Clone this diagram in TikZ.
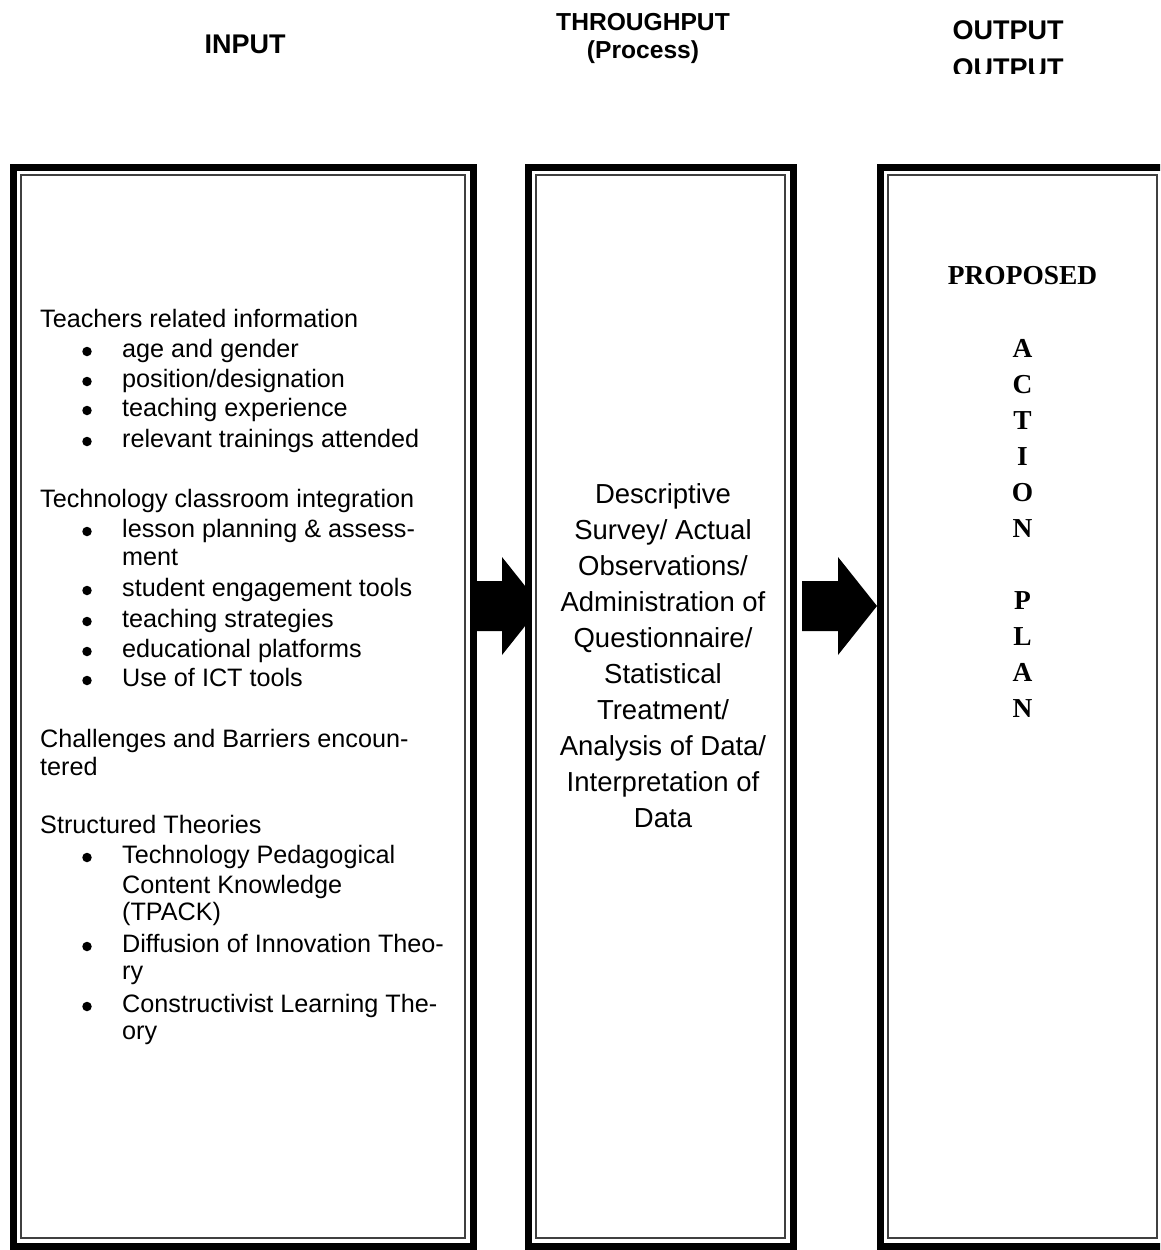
\documentclass[tikz,border=0pt]{standalone}
\usepackage{fontspec}
\setmainfont{Liberation Sans}
\newfontfamily\timesfont{Liberation Serif}
\usetikzlibrary{positioning,backgrounds,calc}

\begin{document}
\begin{tikzpicture}[x=1pt, y=-1pt,
        frame/.style={draw, line width=7pt, fill=white, inner sep=0pt, outer sep=0pt, minimum height=1079pt},
        rule/.style={draw=black!75, line width=2pt},
        head/.style={font=\bfseries\fontsize{27}{32}\selectfont, anchor=base, inner sep=0pt},
        txt/.style={font=\fontsize{25.2}{30}\selectfont, anchor=base west, inner sep=0pt},
        dot/.style={circle, fill, inner sep=0pt, minimum size=9.5pt},
        proc/.style={font=\fontsize{27.5}{36}\selectfont, anchor=base, inner sep=0pt},
        plan/.style={font=\timesfont\bfseries\fontsize{27.4}{36}\selectfont, anchor=base, inner sep=0pt}]
        \useasboundingbox (0,0) rectangle (1160,1250);
        \clip (0,0) rectangle (1160,1250);

        % headings
        \node[head] (hin) at (245,53) {INPUT};
        \node[head, font=\bfseries\fontsize{24.6}{30}\selectfont] (hthr) at (643,30) {THROUGHPUT};
        \node[head, font=\bfseries\fontsize{24.6}{30}\selectfont] (hproc) at (643,58) {(Process)};
        \node[head] (hout) at (1008,39) {OUTPUT};
        \begin{scope}
                \clip (900,0) rectangle (1100,73.5);
                \node[head] (hout2) at (1008,77) {OUTPUT};
        \end{scope}

        % frames
        \node[frame, minimum width=460pt] (in) at (243,706.5) {};
        \node[frame, minimum width=265pt, right=55pt of in] (thr) {};
        \node[frame, minimum width=285pt, right=87pt of thr] (out) {};
        \foreach \b in {in,thr,out}
                \draw[rule] ([shift={(8,8)}]\b.north west) rectangle ([shift={(-8,-8)}]\b.south east);

        % block arrows
        \coordinate (mid) at (0,606);
        \begin{scope}[on background layer]
                \fill (in.east |- mid) ++(0,-25) -- ++(29,0) -- ++(0,-24) -- ++(39,49)
                        -- ++(-39,49) -- ++(0,-24) -- ++(-29,0) -- cycle;
                \fill ($(thr.east |- mid)+(9,-25)$) -- ++(36,0) -- ++(0,-24) -- ++(39,49)
                        -- ++(-39,49) -- ++(0,-24) -- ++(-36,0) -- cycle;
        \end{scope}

        % input
        \foreach \y/\t in {327/Teachers related information, 507/Technology classroom integration,
                        747/Challenges and Barriers encoun-, 775/tered, 833/Structured Theories}
                \node[txt] (g\y) at (40,\y) {\t};
        \foreach \y in {357,387,416,447,537,596,627,657,686,863,952,1012}
                \node[dot] (b\y) at (87,\y-5.5) {};
        \foreach \y/\t in {357/age and gender, 387/{position/designation}, 416/teaching experience,
                        447/relevant trainings attended, 537/lesson planning \& assess-, 565/ment,
                        596/student engagement tools, 627/teaching strategies, 657/educational platforms,
                        686/Use of ICT tools, 863/Technology Pedagogical, 893/Content Knowledge,
                        920/(TPACK), 952/Diffusion of Innovation Theo-, 979/ry,
                        1012/Constructivist Learning The-, 1039/ory}
                \node[txt] (i\y) at (122,\y) {\t};

        % process
        \foreach \t [count=\i from 0] in {Descriptive, Survey/ Actual, Observations/, Administration of,
                        Questionnaire/, Statistical, Treatment/, Analysis of Data/, Interpretation of, Data}
                \node[proc] (p\i) at (663,{503+36.1*\i}) {\t};

        % output
        \node[plan] (prop) at (1022.5,284) {PROPOSED};
        \foreach \l/\y [count=\i] in {A/357, C/393, T/429, I/465, O/501, N/537, P/609, L/645, A/681, N/717}
                \node[plan] (c\i) at (1022.5,\y) {\l};
\end{tikzpicture}
\end{document}
